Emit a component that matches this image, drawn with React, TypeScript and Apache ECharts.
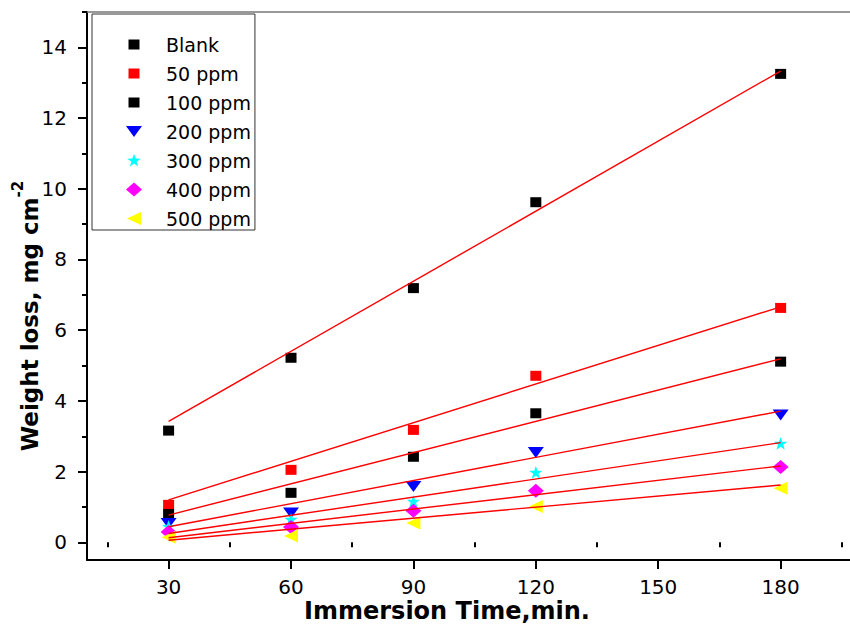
import React, { useEffect, useRef } from 'react';
import * as echarts from 'echarts';

// ---- data ----
const times = [30, 60, 90, 120, 180];
const seriesNames = ['Blank', '50 ppm', '100 ppm', '200 ppm', '300 ppm', '400 ppm', '500 ppm'];
const blank = [3.16, 5.22, 7.19, 9.62, 13.25];
const ppm50 = [1.06, 2.05, 3.18, 4.71, 6.63];
const ppm100 = [0.8, 1.4, 2.42, 3.65, 5.11];
const ppm200 = [0.53, 0.83, 1.58, 2.54, 3.6];
const ppm300 = [0.44, 0.64, 1.15, 1.97, 2.79];
const ppm400 = [0.29, 0.43, 0.89, 1.46, 2.13];
const ppm500 = [0.14, 0.18, 0.55, 1.01, 1.53];
// linear fit lines: value at start and end of fit range
const fitRange = [30, 180];
const fitStart = [3.42, 1.2, 0.77, 0.44, 0.25, 0.13, 0.06];
const fitEnd = [13.33, 6.66, 5.19, 3.71, 2.82, 2.16, 1.62];
// ticks
const xMajorTicks = [30, 60, 90, 120, 150, 180];
const xMinorTicks = [15, 45, 75, 105, 135, 165, 195];
const yMajorTicks = [0, 2, 4, 6, 8, 10, 12, 14];
const yMinorTicks = [1, 3, 5, 7, 9, 11, 13, 15];

const allValues = [blank, ppm50, ppm100, ppm200, ppm300, ppm400, ppm500];

// ---- styles ----
const FONT = 'DejaVu Sans';
const colors = ['#000000', '#ff0000', '#000000', '#0000ff', '#00ffff', '#ff00ff', '#ffff00'];
const PAD = 'M0,0 M16,14 ';
const SQUARE = 'path://' + PAD + 'M2.5,2 L13.5,2 L13.5,12 L2.5,12 Z';
const TRI_DOWN = 'path://' + PAD + 'M0,1.5 L16,1.5 L8,12.5 Z';
const STAR =
  'path://' + PAD +
  'M8,0.3 L9.65,5.03 L14.66,5.14 L10.66,8.17 L12.11,12.96 L8,10.1 L3.89,12.96 L5.34,8.17 L1.34,5.14 L6.35,5.03 Z';
const DIAMOND = 'path://' + PAD + 'M8,0 L16,7 L8,14 L0,7 Z';
const TRI_LEFT = 'path://' + PAD + 'M15,0.5 L15,13.5 L1,7 Z';
const symbols = [SQUARE, SQUARE, SQUARE, TRI_DOWN, STAR, DIAMOND, TRI_LEFT];

function buildOption() {
  const scatterSeries = seriesNames.map((name, i) => ({
    name,
    type: 'scatter',
    xAxisIndex: 0,
    yAxisIndex: 0,
    symbol: symbols[i],
    symbolSize: [16, 14],
    itemStyle: { color: colors[i], opacity: 1 },
    z: 2,
    data: times.map((t, j) => [t, allValues[i][j]]),
  }));
  const fitSeries = seriesNames.map((name, i) => ({
    name: name + ' fit',
    type: 'line',
    xAxisIndex: 0,
    yAxisIndex: 0,
    showSymbol: false,
    symbol: 'none',
    lineStyle: { color: '#ff0000', width: 1.4 },
    z: 3,
    data: [
      [fitRange[0], fitStart[i]],
      [fitRange[1], fitEnd[i]],
    ],
  }));

  const axisLine = { show: true, onZero: false, lineStyle: { color: '#000', width: 2 } };

  return {
    animation: false,
    backgroundColor: '#ffffff',
    grid: { left: 87, right: 0, top: 12, bottom: 66 },
    xAxis: [
      {
        type: 'value',
        min: 10,
        max: 197,
        axisLine,
        splitLine: { show: false },
        axisTick: {
          show: true,
          inside: false,
          length: 9,
          customValues: xMajorTicks,
          lineStyle: { color: '#000', width: 2 },
        },
        axisLabel: {
          customValues: xMajorTicks,
          margin: 17,
          color: '#000',
          fontSize: 20,
          fontFamily: FONT,
        },
      },
      {
        type: 'value',
        min: 10,
        max: 197,
        position: 'bottom',
        axisLine: { show: false },
        splitLine: { show: false },
        axisTick: {
          show: true,
          inside: false,
          length: 5,
          customValues: xMinorTicks,
          lineStyle: { color: '#000', width: 2 },
        },
        axisLabel: { show: false },
      },
      {
        type: 'value',
        min: 10,
        max: 197,
        position: 'top',
        axisLine: { show: true, onZero: false, lineStyle: { color: '#777', width: 1.5 } },
        splitLine: { show: false },
        axisTick: { show: false },
        axisLabel: { show: false },
      },
    ],
    yAxis: [
      {
        type: 'value',
        min: -0.5,
        max: 15,
        axisLine,
        splitLine: { show: false },
        axisTick: {
          show: true,
          inside: false,
          length: 9,
          customValues: yMajorTicks,
          lineStyle: { color: '#000', width: 2 },
        },
        axisLabel: {
          customValues: yMajorTicks,
          margin: 20,
          color: '#000',
          fontSize: 20,
          fontFamily: FONT,
        },
      },
      {
        type: 'value',
        min: -0.5,
        max: 15,
        position: 'left',
        axisLine: { show: false },
        splitLine: { show: false },
        axisTick: {
          show: true,
          inside: false,
          length: 5,
          customValues: yMinorTicks,
          lineStyle: { color: '#000', width: 2 },
        },
        axisLabel: { show: false },
      },
    ],
    legend: {
      orient: 'vertical',
      left: 92,
      top: 14,
      padding: [21, 4, 2, 34],
      itemWidth: 16,
      itemHeight: 14,
      itemGap: 10,
      borderColor: '#333',
      borderWidth: 1,
      backgroundColor: '#fff',
      selectedMode: false,
      data: seriesNames,
      formatter: (name: string) => `{t|${name}}`,
      textStyle: {
        rich: {
          t: {
            fontSize: 19,
            fontFamily: FONT,
            color: '#000',
            lineHeight: 14,
            padding: [0, 0, 0, 19],
          },
        },
      },
    },
    graphic: [
      {
        type: 'text',
        x: 447,
        y: 611,
        style: {
          text: 'Immersion Time,min.',
          fontSize: 24,
          fontWeight: 'bold',
          fontFamily: FONT,
          fill: '#000',
          align: 'center',
          verticalAlign: 'middle',
        },
      },
      {
        type: 'text',
        x: 30,
        y: 316,
        rotation: Math.PI / 2,
        style: {
          text: '{m|Weight loss, mg cm}{sup|-2}',
          fill: '#000',
          align: 'center',
          verticalAlign: 'middle',
          rich: {
            m: {
              fontSize: 23,
              fontWeight: 'bold',
              fontFamily: FONT,
              fill: '#000',
              lineHeight: 40,
            },
            sup: {
              fontSize: 15,
              fontWeight: 'bold',
              fontFamily: FONT,
              fill: '#000',
              lineHeight: 16,
              verticalAlign: 'top',
            },
          },
        },
      },
    ],
    series: [...scatterSeries, ...fitSeries],
  };
}

export default function App() {
  const ref = useRef<HTMLDivElement>(null);
  useEffect(() => {
    if (!ref.current) return;
    const chart = echarts.init(ref.current, null, { renderer: 'svg' });
    chart.setOption(buildOption() as any);
    return () => chart.dispose();
  }, []);
  return (
    <div
      ref={ref}
      style={{ position: 'absolute', left: 0, top: 0, width: 850, height: 626, background: '#fff' }}
    />
  );
}
